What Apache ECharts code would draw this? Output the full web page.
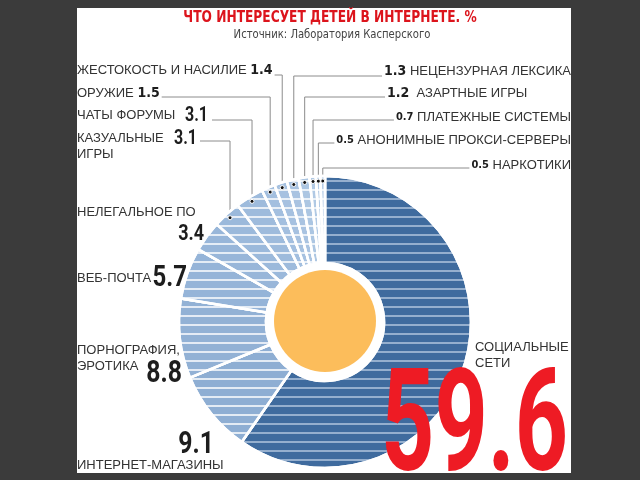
<!DOCTYPE html>
<html><head><meta charset="utf-8">
<script src="https://cdn.jsdelivr.net/npm/echarts@6/dist/echarts.min.js"></script>
<style>html,body{margin:0;padding:0;background:#3b3b3b}#c{width:640px;height:480px}</style>
</head><body><div id="c"></div>
<script>
// ---------- DATA ----------
const categories = ['СОЦИАЛЬНЫЕ СЕТИ','ИНТЕРНЕТ-МАГАЗИНЫ','ПОРНОГРАФИЯ, ЭРОТИКА','ВЕБ-ПОЧТА','НЕЛЕГАЛЬНОЕ ПО','КАЗУАЛЬНЫЕ ИГРЫ','ЧАТЫ ФОРУМЫ','ОРУЖИЕ','ЖЕСТОКОСТЬ И НАСИЛИЕ','НЕЦЕНЗУРНАЯ ЛЕКСИКА','АЗАРТНЫЕ ИГРЫ','ПЛАТЕЖНЫЕ СИСТЕМЫ','АНОНИМНЫЕ ПРОКСИ-СЕРВЕРЫ','НАРКОТИКИ'];
const values = [59.6, 9.1, 8.8, 5.7, 3.4, 3.1, 3.1, 1.5, 1.4, 1.3, 1.2, 0.7, 0.5, 0.5];
const titleText = 'ЧТО ИНТЕРЕСУЕТ ДЕТЕЙ В ИНТЕРНЕТЕ. %';
const sourceText = 'Источник: Лаборатория Касперского';

// ---------- LAYOUT / STYLE ----------
const CX = 325, CY = 322, R_OUT = 146, R_IN = 59, R_DOT = 141;
const sliceColors = ['#3f6b9e','#8eaed3','#92b1d5','#95b4d8','#98b6d9','#9bb9db','#9ebbdc','#a3bfdf','#a6c1e0','#a9c3e1','#acc6e2','#b0c9e4','#b3cbe5','#b6cde6'];
// label layout per slice; "big" = large condensed number drawn as a separate text
const cfg = [
  {form:'split',   x:475, y:339, va:'top', align:'left',    big:{x:568, y:434, size:143, sx:0.65, color:'#ee1b24'}},
  {form:'name',    x:77,  y:465, va:'middle', align:'left', big:{x:214, y:445, size:31, sx:0.8}},
  {form:'split',   x:77,  y:342, va:'top', align:'left',    big:{x:182, y:374, size:31, sx:0.8}},
  {form:'name',    x:77,  y:278, va:'middle', align:'left', big:{x:187, y:278, size:30, sx:0.8}},
  {form:'name',    x:77,  y:212, va:'middle', align:'left', big:{x:204, y:234, size:22.5, sx:0.8}},
  {form:'split',   x:77,  y:130, va:'top', align:'left',    big:{x:197, y:139, size:20, sx:0.8}, line:true, lineX:200, lineY:141},
  {form:'name',    x:77,  y:115, va:'middle', align:'left', big:{x:208, y:116, size:20, sx:0.8}, line:true, lineX:212, lineY:120},
  {form:'leftIn',  x:77,  y:93,  va:'middle', align:'left',  v:'vs',  line:true, lineY:97,  side:'L'},
  {form:'leftIn',  x:77,  y:70,  va:'middle', align:'left',  v:'vs',  line:true, lineY:75,  side:'L'},
  {form:'rightIn', x:571, y:71,  va:'middle', align:'right', v:'vs',  line:true, lineY:76,  side:'R'},
  {form:'rightIn2',x:387, y:93,  va:'middle', align:'left',  v:'vs',  line:true, lineY:97,  side:'RL'},
  {form:'rightIn', x:571, y:117, va:'middle', align:'right', v:'vxs', line:true, lineY:120, side:'R'},
  {form:'rightIn', x:571, y:140, va:'middle', align:'right', v:'vxs', line:true, lineY:143, side:'R'},
  {form:'rightIn', x:571, y:165, va:'middle', align:'right', v:'vxs', line:true, lineY:168, side:'R'}
];

const total = values.reduce((a, b) => a + b, 0);
function midAngle(i) {
  let s = 0;
  for (let k = 0; k < i; k++) s += values[k];
  return (s + values[i] / 2) / total * Math.PI * 2;
}
function dotPos(i) {
  const a = midAngle(i);
  return [CX + R_DOT * Math.sin(a), CY - R_DOT * Math.cos(a)];
}
function fmtVal(v) { return String(v); }
function splitName(n) { const k = n.indexOf(' '); return [n.slice(0, k), n.slice(k + 1)]; }

function formatter(p) {
  const c = cfg[p.dataIndex];
  const n = p.name, v = fmtVal(p.value);
  switch (c.form) {
    case 'split': { const s = splitName(n); return '{n|' + s[0] + '}\n{n|' + s[1] + '}'; }
    case 'name': return '{n|' + n + '}';
    case 'leftIn': return '{n|' + n + ' }{' + c.v + '|' + v + '}';
    case 'rightIn': return '{' + c.v + '|' + v + '}{n| ' + n + '}';
    case 'rightIn2': return '{' + c.v + '|' + v + '}{n|  ' + n + '}';
  }
  return n;
}

const NARROW = '"Liberation Sans Narrow", "DejaVu Sans Condensed", sans-serif';
const REG = '"Liberation Sans", Arial, sans-serif';
const BIG = 'Roboto, "Liberation Sans", sans-serif';
const rich = {
  n:   {fontFamily: REG, fontSize: 13, color: '#333', lineHeight: 16},
  vs:  {fontFamily: NARROW, fontWeight: 'bold', fontSize: 14, color: '#1d1d1d', lineHeight: 16},
  vxs: {fontFamily: NARROW, fontWeight: 'bold', fontSize: 11, color: '#1d1d1d', lineHeight: 15}
};

const data = categories.map((name, i) => ({
  name: name,
  value: values[i],
  itemStyle: {
    color: sliceColors[i],
    decal: {
      symbol: 'rect', symbolSize: 1,
      dashArrayX: [9, 0], dashArrayY: [2, 7],
      color: i === 0 ? 'rgba(220,232,245,0.55)' : 'rgba(255,255,255,0.75)'
    }
  },
  labelLine: {show: !!cfg[i].line}
}));

const graphics = [
  {type: 'rect', z: -10, shape: {x: 77, y: 8, width: 494, height: 465}, style: {fill: '#ffffff'}},
  {type: 'text', z: 10, x: 330, y: 18, scaleX: 0.85,
   style: {text: titleText, font: 'bold 16px ' + NARROW, fill: '#dc141c', align: 'center', verticalAlign: 'middle'}},
  {type: 'text', z: 10, x: 332, y: 35, scaleX: 0.86,
   style: {text: sourceText, font: '13px ' + NARROW, fill: '#444', align: 'center', verticalAlign: 'middle'}},
  {type: 'circle', z: 10, shape: {cx: CX, cy: CY - 1, r: 51}, style: {fill: '#fcbd5b'}}
];
cfg.forEach((c, i) => {
  if (c.big) {
    graphics.push({type: 'text', z: 15, x: c.big.x, y: c.big.y, scaleX: c.big.sx,
      style: {text: fmtVal(values[i]), font: 'bold ' + c.big.size + 'px ' + BIG,
              fill: c.big.color || '#1d1d1d', align: 'right', verticalAlign: 'middle'}});
  }
  if (c.line) {
    const p = dotPos(i);
    graphics.push({type: 'circle', z: 20, shape: {cx: p[0], cy: p[1], r: 2}, style: {fill: '#111', stroke: '#fff', lineWidth: 1}});
  }
});

const chart = echarts.init(document.getElementById('c'), null, {renderer: 'canvas'});
chart.setOption({
  backgroundColor: '#3b3b3b',
  animation: false,
  graphic: graphics,
  series: [{
    type: 'pie',
    center: [CX, CY],
    radius: [R_IN, R_OUT],
    startAngle: 90,
    clockwise: true,
    avoidLabelOverlap: false,
    silent: true,
    itemStyle: {borderColor: '#ffffff', borderWidth: 2.5},
    label: {show: true, position: 'outside', formatter: formatter, rich: rich},
    labelLine: {lineStyle: {color: '#8c8c8c', width: 1}, length: 5, length2: 5},
    labelLayout: function (p) {
      const i = p.dataIndex, c = cfg[i];
      const res = {x: c.x, y: c.y, align: c.align, verticalAlign: c.va};
      if (c.line) {
        const d = dotPos(i);
        let sx;
        if (c.lineX != null) sx = c.lineX;
        else if (c.side === 'L') sx = c.x + p.labelRect.width + 2;
        else if (c.side === 'R') sx = c.x - p.labelRect.width - 2;
        else sx = c.x - 2;
        res.labelLinePoints = [[sx, c.lineY], [d[0], c.lineY], [d[0], d[1]]];
      }
      return res;
    },
    data: data
  }]
});
</script></body></html>
